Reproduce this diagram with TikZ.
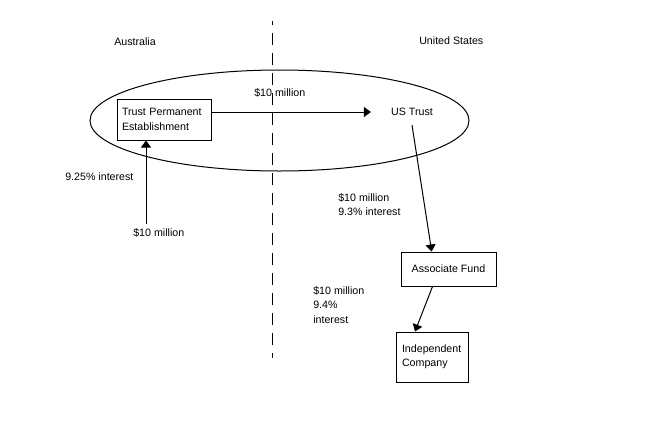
\documentclass[tikz,border=0pt]{standalone}
\usepackage{fontspec}
\setmainfont{Liberation Sans}
\usetikzlibrary{arrows.meta}

\tikzset{
  box/.style={draw, line width=0.75pt, align=left, inner ysep=0pt},
  lbl/.style={anchor=west, inner sep=0pt, align=left},
  arr/.style={line width=0.75pt, -{Triangle[length=5.25pt,width=7.5pt]}},
}

\begin{document}
\begin{tikzpicture}[x=0.75pt,y=0.75pt,yscale=-1,font=\fontsize{8}{10.8}\selectfont]
        \useasboundingbox (0,0) rectangle (645,429);

        %Shape: Ellipse
        \draw [line width=0.75pt] (279.5,120.5) ellipse [x radius=189.5, y radius=50.5];
        %Straight Lines (border)
        \draw [line width=0.75pt, dash pattern={on 9pt off 6pt}, dash phase=6pt] (272.3,21) -- (272.3,358);

        % Boxes
        \node [box, text width=63pt, inner xsep=3.75pt, minimum height=30.75pt] (tpe) at (164,119.5) {Trust Permanent\\Establishment};
        \node [box, minimum width=71.25pt, minimum height=25.5pt] (af) at (448.5,269) {Associate Fund};
        \node [box, text width=45pt, inner xsep=4.5pt, minimum height=37.5pt] (ic) at (432,357) {Independent\\Company};
        \node [inner xsep=15pt, inner ysep=6.8pt] (ut) at (412,112) {US Trust};

        % Text Node
        \node [lbl] (aus) at (114,42) {Australia};
        % Text Node
        \node [lbl] (usa) at (419,41) {United States};
        % Text Node
        \node [lbl] (m1) at (254,93) {\$10 million};
        % Text Node
        \node [lbl] (rate) at (65,177) {9.25\% interest};
        % Text Node
        \node [lbl, inner ysep=3pt] (m3) at (133,233) {\$10 million};
        % Text Node
        \node [lbl] (m4) at (338,204.5) {\$10 million\\9.3\% interest};
        % Text Node
        \node [lbl] (m5) at (313,305) {\$10 million\\9.4\%\\interest};

        %Straight Lines
        \draw [arr] (tpe.east |- ut) -- (ut.west);
        \coordinate (tpeb) at ([xshift=-13.5pt]tpe.south);
        \draw [arr] (tpeb |- m3.north) -- (tpeb);
        \draw [arr] (ut.south) -- ([xshift=-12.6pt]af.north);
        \draw [arr] ([xshift=-12pt]af.south) -- ([xshift=-12.75pt]ic.north);

\end{tikzpicture}
\end{document}
